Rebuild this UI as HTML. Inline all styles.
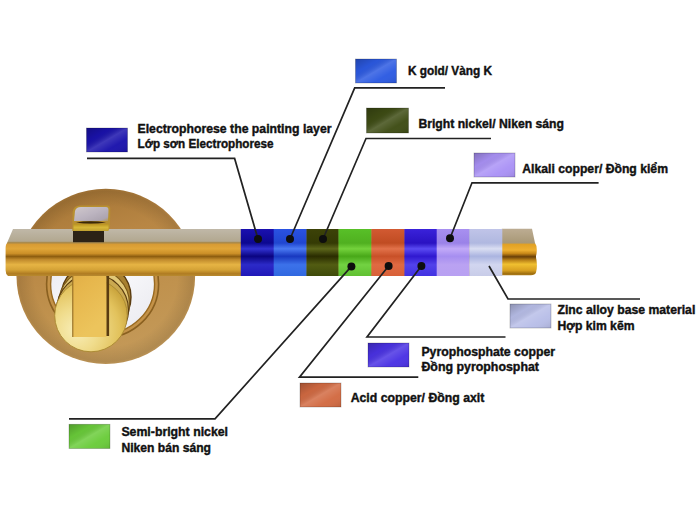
<!DOCTYPE html>
<html><head><meta charset="utf-8">
<style>
html,body{margin:0;padding:0;background:#fff;width:700px;height:525px;overflow:hidden}
svg{display:block}
text{font-family:"Liberation Sans",sans-serif;font-weight:bold;font-size:12.5px;fill:#111;stroke:#111;stroke-width:0.4px}
</style></head><body>
<svg width="700" height="525" viewBox="0 0 700 525">
<defs>
  <linearGradient id="ros" x1="0.3" y1="0" x2="0.6" y2="1">
    <stop offset="0" stop-color="#a47434"/>
    <stop offset="0.3" stop-color="#b88644"/>
    <stop offset="0.65" stop-color="#c0924e"/>
    <stop offset="1" stop-color="#c49a5a"/>
  </linearGradient>
  <radialGradient id="rosedge" cx="0.5" cy="0.5" r="0.5">
    <stop offset="0.8" stop-color="#000" stop-opacity="0"/>
    <stop offset="0.97" stop-color="#000" stop-opacity="0.1"/>
    <stop offset="1" stop-color="#000" stop-opacity="0.05"/>
  </radialGradient>
  <linearGradient id="barg" x1="0" y1="229" x2="0" y2="276" gradientUnits="userSpaceOnUse">
    <stop offset="0" stop-color="#c0b8a8"/>
    <stop offset="0.26" stop-color="#b2a890"/>
    <stop offset="0.29" stop-color="#a88848"/>
    <stop offset="0.33" stop-color="#d89c34"/>
    <stop offset="0.42" stop-color="#e0a638"/>
    <stop offset="0.52" stop-color="#cc9028"/>
    <stop offset="0.585" stop-color="#8e5e10"/>
    <stop offset="0.65" stop-color="#c08a2c"/>
    <stop offset="0.76" stop-color="#e6b444"/>
    <stop offset="0.87" stop-color="#d4a236"/>
    <stop offset="0.95" stop-color="#b07c22"/>
    <stop offset="1" stop-color="#b88a30"/>
  </linearGradient>
  <linearGradient id="shade" x1="0" y1="229" x2="0" y2="276" gradientUnits="userSpaceOnUse">
    <stop offset="0" stop-color="#000" stop-opacity="0.05"/>
    <stop offset="0.28" stop-color="#000" stop-opacity="0.12"/>
    <stop offset="0.45" stop-color="#fff" stop-opacity="0.18"/>
    <stop offset="0.58" stop-color="#000" stop-opacity="0.25"/>
    <stop offset="0.8" stop-color="#fff" stop-opacity="0.15"/>
    <stop offset="1" stop-color="#000" stop-opacity="0.1"/>
  </linearGradient>
  <linearGradient id="sw" x1="0" y1="0" x2="1" y2="1">
    <stop offset="0" stop-color="#000" stop-opacity="0.24"/>
    <stop offset="0.3" stop-color="#000" stop-opacity="0.04"/>
    <stop offset="0.5" stop-color="#fff" stop-opacity="0.16"/>
    <stop offset="0.72" stop-color="#fff" stop-opacity="0.03"/>
    <stop offset="1" stop-color="#000" stop-opacity="0.1"/>
  </linearGradient>
  <linearGradient id="chrome" x1="0" y1="0" x2="1" y2="1">
    <stop offset="0" stop-color="#e4e4ec"/>
    <stop offset="0.5" stop-color="#fafafc"/>
    <stop offset="1" stop-color="#e8e8ee"/>
  </linearGradient>
  <linearGradient id="neck" x1="0" y1="0" x2="1" y2="0">
    <stop offset="0" stop-color="#e0c060"/>
    <stop offset="0.25" stop-color="#f0dc90"/>
    <stop offset="0.45" stop-color="#9a7020"/>
    <stop offset="0.6" stop-color="#e8d080"/>
    <stop offset="0.8" stop-color="#7a5418"/>
    <stop offset="1" stop-color="#c8a850"/>
  </linearGradient>
  <radialGradient id="knob" cx="0.3" cy="0.7" r="0.85">
    <stop offset="0" stop-color="#f8eeb8"/>
    <stop offset="0.35" stop-color="#f0dc8c"/>
    <stop offset="0.7" stop-color="#e2c25c"/>
    <stop offset="1" stop-color="#c09830"/>
  </radialGradient>
  <linearGradient id="stem" x1="0" y1="0" x2="0.3" y2="1">
    <stop offset="0" stop-color="#d8a240"/>
    <stop offset="0.5" stop-color="#e6b64c"/>
    <stop offset="1" stop-color="#ecc45c"/>
  </linearGradient>
  <linearGradient id="tabtop" x1="0" y1="0" x2="1" y2="1">
    <stop offset="0" stop-color="#d0c8cc"/>
    <stop offset="0.5" stop-color="#bcb4c0"/>
    <stop offset="0.85" stop-color="#aca4b0"/>
    <stop offset="1" stop-color="#b89850"/>
  </linearGradient>
  <linearGradient id="s1" x1="0" y1="229" x2="0" y2="276" gradientUnits="userSpaceOnUse">
    <stop offset="0" stop-color="#1a10b0"/><stop offset="0.3" stop-color="#0c0890"/><stop offset="0.42" stop-color="#3232d2"/><stop offset="0.58" stop-color="#0a0480"/><stop offset="0.76" stop-color="#2c2ac8"/><stop offset="1" stop-color="#2018b8"/>
  </linearGradient>
  <linearGradient id="s2" x1="0" y1="229" x2="0" y2="276" gradientUnits="userSpaceOnUse">
    <stop offset="0" stop-color="#2a52e2"/><stop offset="0.3" stop-color="#2046d0"/><stop offset="0.42" stop-color="#4a7af2"/><stop offset="0.58" stop-color="#1838c0"/><stop offset="0.76" stop-color="#3c72ea"/><stop offset="1" stop-color="#3068e0"/>
  </linearGradient>
  <linearGradient id="s3" x1="0" y1="229" x2="0" y2="276" gradientUnits="userSpaceOnUse">
    <stop offset="0" stop-color="#3c4208"/><stop offset="0.3" stop-color="#343a04"/><stop offset="0.42" stop-color="#5c661a"/><stop offset="0.58" stop-color="#2a2c00"/><stop offset="0.76" stop-color="#525c12"/><stop offset="1" stop-color="#3e4a0a"/>
  </linearGradient>
  <linearGradient id="s4" x1="0" y1="229" x2="0" y2="276" gradientUnits="userSpaceOnUse">
    <stop offset="0" stop-color="#58c028"/><stop offset="0.3" stop-color="#50b020"/><stop offset="0.42" stop-color="#74d23c"/><stop offset="0.58" stop-color="#48a818"/><stop offset="0.76" stop-color="#72d242"/><stop offset="1" stop-color="#60c032"/>
  </linearGradient>
  <linearGradient id="s5" x1="0" y1="229" x2="0" y2="276" gradientUnits="userSpaceOnUse">
    <stop offset="0" stop-color="#d25a32"/><stop offset="0.3" stop-color="#c04c22"/><stop offset="0.42" stop-color="#e2724a"/><stop offset="0.58" stop-color="#c85028"/><stop offset="0.76" stop-color="#e06a42"/><stop offset="1" stop-color="#d86038"/>
  </linearGradient>
  <linearGradient id="s6" x1="0" y1="229" x2="0" y2="276" gradientUnits="userSpaceOnUse">
    <stop offset="0" stop-color="#3a22da"/><stop offset="0.3" stop-color="#2a12c2"/><stop offset="0.42" stop-color="#5a4af2"/><stop offset="0.58" stop-color="#3018d0"/><stop offset="0.76" stop-color="#5242ea"/><stop offset="1" stop-color="#4232e2"/>
  </linearGradient>
  <linearGradient id="s7" x1="0" y1="229" x2="0" y2="276" gradientUnits="userSpaceOnUse">
    <stop offset="0" stop-color="#a890f0"/><stop offset="0.3" stop-color="#9a82e8"/><stop offset="0.42" stop-color="#c2aaf8"/><stop offset="0.58" stop-color="#a68ef0"/><stop offset="0.76" stop-color="#baa2f2"/><stop offset="1" stop-color="#b8a0f2"/>
  </linearGradient>
  <linearGradient id="s8" x1="0" y1="229" x2="0" y2="276" gradientUnits="userSpaceOnUse">
    <stop offset="0" stop-color="#c0c4e8"/><stop offset="0.3" stop-color="#b0b8e0"/><stop offset="0.42" stop-color="#dadef2"/><stop offset="0.58" stop-color="#aab4e0"/><stop offset="0.76" stop-color="#d2d6f0"/><stop offset="1" stop-color="#c8cce8"/>
  </linearGradient>
  <linearGradient id="endg" x1="0" y1="229" x2="0" y2="276" gradientUnits="userSpaceOnUse">
    <stop offset="0" stop-color="#bcac92"/>
    <stop offset="0.3" stop-color="#a89876"/>
    <stop offset="0.32" stop-color="#e0a024"/>
    <stop offset="0.45" stop-color="#eeb030"/>
    <stop offset="0.52" stop-color="#c88818"/>
    <stop offset="0.59" stop-color="#6a4008"/>
    <stop offset="0.66" stop-color="#b88018"/>
    <stop offset="0.75" stop-color="#f0c030"/>
    <stop offset="0.88" stop-color="#d8a020"/>
    <stop offset="0.95" stop-color="#a07010"/>
    <stop offset="1" stop-color="#b08020"/>
  </linearGradient>
  <linearGradient id="tabfront" x1="0" y1="0" x2="0" y2="1">
    <stop offset="0" stop-color="#b89020"/>
    <stop offset="0.5" stop-color="#d8b838"/>
    <stop offset="1" stop-color="#c0a030"/>
  </linearGradient>
</defs>

<!-- rosette -->
<ellipse cx="105.8" cy="276.4" rx="89.3" ry="87.6" fill="url(#ros)"/>
<ellipse cx="105.8" cy="276.4" rx="89.3" ry="87.6" fill="url(#rosedge)"/>
<ellipse cx="102.6" cy="284" rx="56" ry="54" fill="#c49248" stroke="#8a6020" stroke-width="1.6"/>
<ellipse cx="102.6" cy="284" rx="52" ry="50" fill="url(#chrome)" stroke="#9a6a20" stroke-width="1.4"/>
<!-- knob cylinder -->
<circle cx="96" cy="297" r="35" fill="#a88030"/>
<path d="M55.5 320 L62 297 L131 297 L127 315.5 Z" fill="#a88030"/>
<circle cx="96" cy="297" r="35" fill="none" stroke="#5a3c10" stroke-width="1.4"/>
<circle cx="94" cy="304" r="35.5" fill="#e2c878" stroke="#7a5818" stroke-width="1.2"/>
<circle cx="92.5" cy="310" r="36" fill="#caa850" stroke="#5a3c10" stroke-width="1.1"/>
<!-- inner knob -->
<circle cx="91" cy="315.5" r="36.3" fill="url(#knob)" stroke="#a88830" stroke-width="0.9"/>
<rect x="72.5" y="243" width="34" height="94" fill="url(#stem)"/>
<rect x="72.3" y="250" width="1" height="87" fill="#8a6420"/>
<rect x="106.5" y="250" width="2.6" height="86" fill="#5a3c10"/>
<!-- bar -->
<path d="M13 229 L502 229 L502 276 L8 276 Q5.5 274 5.6 270 L5.6 248 Q5.8 244 6.8 243.5 Z" fill="url(#barg)"/>
<path d="M501.8 228.8 L532 228.8 L535 243 Q537.5 246 536.5 254 Q535.5 256.5 536.5 260 Q537.5 268 536 272.5 Q535 275.3 531 275.3 L501.8 275.3 Z" fill="url(#endg)"/>
<rect x="73" y="231" width="31" height="11.2" fill="#2c2216"/>
<!-- tab -->
<path d="M72.3 231 L72.6 212 Q73.5 205.5 80 205.5 L107 205.5 Q110.3 205.5 110.3 209 L110 226 Q109.5 231 106 231 Z" fill="#b89030"/>
<path d="M74 221 L75 211 Q76 207 81 207 L106 207 Q108.5 207 108.5 210 L108 221 Z" fill="url(#tabtop)"/>
<path d="M76 222.5 Q90 220 106 222.5 Q90 225 76 222.5 Z" fill="#3a2808"/>
<rect x="73.5" y="223.8" width="35" height="7.2" fill="url(#tabfront)"/>

<!-- segments -->
<rect x="240.8" y="229" width="33.2" height="47" fill="url(#s1)"/>
<rect x="273.7" y="229" width="33.1" height="47" fill="url(#s2)"/>
<rect x="306.5" y="229" width="32.3" height="47" fill="url(#s3)"/>
<rect x="338.5" y="229" width="33.2" height="47" fill="url(#s4)"/>
<rect x="371.4" y="229" width="33.3" height="47" fill="url(#s5)"/>
<rect x="404.4" y="229" width="32.6" height="47" fill="url(#s6)"/>
<rect x="436.7" y="229" width="33.0" height="47" fill="url(#s7)"/>
<rect x="469.4" y="229" width="32.9" height="47" fill="url(#s8)"/>

<!-- leader lines -->
<g fill="none" stroke="#222" stroke-width="1.7">
  <polyline points="87,158.4 234.6,158.4 258,239"/>
  <polyline points="445,87.9 354.7,87.9 290,239"/>
  <polyline points="491,138.5 366,138.5 323,239"/>
  <polyline points="598.6,182.8 472,182.8 450,238.3"/>
  <polyline points="640,299 508,299 489,266"/>
  <polyline points="505.5,337 367,337 421.4,266"/>
  <polyline points="418.3,377.2 299.5,377.2 388.6,266"/>
  <polyline points="69,418.9 215,418.9 351.4,266.4"/>
</g>
<g fill="#0e0e0e">
  <circle cx="258" cy="239" r="4"/>
  <circle cx="290" cy="239" r="4"/>
  <circle cx="323" cy="239" r="4"/>
  <circle cx="450" cy="238.3" r="4"/>
  <circle cx="351.4" cy="266.4" r="4"/>
  <circle cx="388.6" cy="266" r="4"/>
  <circle cx="421.4" cy="266" r="4"/>
</g>

<!-- swatches -->
<rect x="86.5" y="128" width="41" height="24" fill="#1a12ac"/>
<rect x="355.5" y="59" width="41" height="24" fill="#2c5ae2"/>
<rect x="366.5" y="108" width="42" height="25" fill="#3e4c14"/>
<rect x="474" y="153" width="41" height="24" fill="#aa92f6"/>
<rect x="510" y="304" width="41" height="24" fill="#b8bee8"/>
<rect x="368" y="343" width="41" height="24" fill="#4a32e4"/>
<rect x="300" y="383" width="41" height="24" fill="#d26a42"/>
<rect x="69" y="424.3" width="41" height="24.2" fill="#6acc3a"/>
<g fill="url(#sw)" stroke="#000" stroke-opacity="0.25" stroke-width="0.8">
<rect x="86.5" y="128" width="41" height="24"/>
<rect x="355.5" y="59" width="41" height="24"/>
<rect x="366.5" y="108" width="42" height="25"/>
<rect x="474" y="153" width="41" height="24"/>
<rect x="510" y="304" width="41" height="24"/>
<rect x="368" y="343" width="41" height="24"/>
<rect x="300" y="383" width="41" height="24"/>
<rect x="69" y="424.3" width="41" height="24.2"/>
</g>

<!-- labels -->
<text x="137.5" y="133.1" textLength="194" lengthAdjust="spacingAndGlyphs">Electrophorese the painting layer</text>
<text x="137.5" y="148.3" textLength="136" lengthAdjust="spacingAndGlyphs">Lớp sơn Electrophorese</text>
<text x="408" y="74.5" textLength="84" lengthAdjust="spacingAndGlyphs">K gold/ Vàng K</text>
<text x="418.4" y="127.5" textLength="145.6" lengthAdjust="spacingAndGlyphs">Bright nickel/ Niken sáng</text>
<text x="522.3" y="172.8" textLength="145.7" lengthAdjust="spacingAndGlyphs">Alkali copper/ Đồng kiểm</text>
<text x="557.5" y="314.4" textLength="137.8" lengthAdjust="spacingAndGlyphs">Zinc alloy base material</text>
<text x="557.5" y="330.2" textLength="77" lengthAdjust="spacingAndGlyphs">Hợp kim kẽm</text>
<text x="421.4" y="355.5" textLength="133.6" lengthAdjust="spacingAndGlyphs">Pyrophosphate copper</text>
<text x="421.4" y="371.4" textLength="117.6" lengthAdjust="spacingAndGlyphs">Đồng pyrophosphat</text>
<text x="350.7" y="401.9" textLength="133.6" lengthAdjust="spacingAndGlyphs">Acid copper/ Đồng axit</text>
<text x="121.4" y="435.5" textLength="106.6" lengthAdjust="spacingAndGlyphs">Semi-bright nickel</text>
<text x="121.4" y="451.5" textLength="89.6" lengthAdjust="spacingAndGlyphs">Niken bán sáng</text>
</svg>
</body></html>
